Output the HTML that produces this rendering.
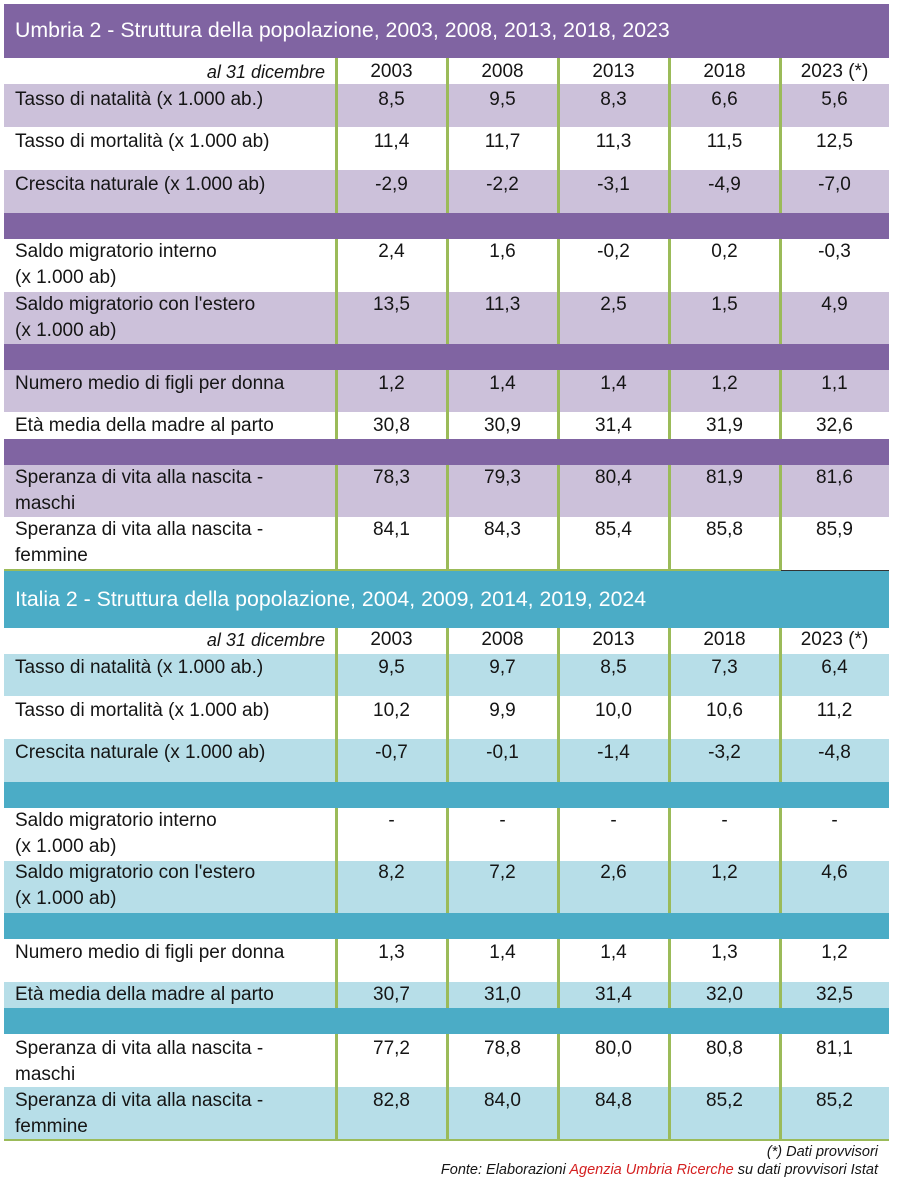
<!DOCTYPE html>
<html>
<head>
<meta charset="utf-8">
<style>
  html,body{margin:0;padding:0;background:#fff;}
  #c{position:relative;width:900px;height:1186px;overflow:hidden;background:#fff;font-family:"Liberation Sans",Arial,sans-serif;}
  .r{position:absolute;left:4px;width:885px;}
  .P{background:#8064A2;}
  .L{background:#CCC1DA;}
  .T{background:#4BACC6;}
  .B{background:#B7DEE8;}
  .W{background:#fff;}
  .g{position:absolute;width:3px;background:#9BBB59;}
  .t{position:absolute;font-size:19px;line-height:26px;white-space:nowrap;color:#151515;}
  .lab{left:15px;}
  .v{text-align:center;}
  .c1{left:336px;width:111px;}
  .c2{left:447px;width:111px;}
  .c3{left:558px;width:111px;}
  .c4{left:669px;width:111px;}
  .c5{left:780px;width:109px;}
  .ttl{position:absolute;left:15px;font-size:21.3px;line-height:30px;color:#fff;white-space:nowrap;}
  .hd{position:absolute;left:0;width:325px;text-align:right;font-style:italic;font-size:18px;line-height:26px;color:#151515;white-space:nowrap;}
  .fn{position:absolute;right:22px;font-style:italic;font-size:14.5px;line-height:18px;color:#151515;white-space:nowrap;text-align:right;}
  .red{color:#D42020;}
</style>
</head>
<body>
<div id="c">

<!-- ================= UMBRIA ================= -->
<div class="r P" style="top:4px;height:54px;"></div>
<div class="ttl" style="top:15px;">Umbria 2 - Struttura della popolazione, 2003, 2008, 2013, 2018, 2023</div>

<div class="r W" style="top:58px;height:26px;"></div>
<div class="r L" style="top:84px;height:43px;"></div>
<div class="r W" style="top:127px;height:43px;"></div>
<div class="r L" style="top:170px;height:43px;"></div>
<div class="r P" style="top:213px;height:26px;"></div>
<div class="r W" style="top:239px;height:53px;"></div>
<div class="r L" style="top:292px;height:52px;"></div>
<div class="r P" style="top:344px;height:26px;"></div>
<div class="r L" style="top:370px;height:42px;"></div>
<div class="r W" style="top:412px;height:27px;"></div>
<div class="r P" style="top:439px;height:26px;"></div>
<div class="r L" style="top:465px;height:52px;"></div>
<div class="r W" style="top:517px;height:53px;"></div>

<!-- green verticals Umbria -->
<div class="g" style="left:335px;top:58px;height:155px;"></div>
<div class="g" style="left:446px;top:58px;height:155px;"></div>
<div class="g" style="left:557px;top:58px;height:155px;"></div>
<div class="g" style="left:668px;top:58px;height:155px;"></div>
<div class="g" style="left:779px;top:58px;height:155px;"></div>

<div class="g" style="left:335px;top:239px;height:105px;"></div>
<div class="g" style="left:446px;top:239px;height:105px;"></div>
<div class="g" style="left:557px;top:239px;height:105px;"></div>
<div class="g" style="left:668px;top:239px;height:105px;"></div>
<div class="g" style="left:779px;top:239px;height:105px;"></div>

<div class="g" style="left:335px;top:370px;height:69px;"></div>
<div class="g" style="left:446px;top:370px;height:69px;"></div>
<div class="g" style="left:557px;top:370px;height:69px;"></div>
<div class="g" style="left:668px;top:370px;height:69px;"></div>
<div class="g" style="left:779px;top:370px;height:69px;"></div>

<div class="g" style="left:335px;top:465px;height:106px;"></div>
<div class="g" style="left:446px;top:465px;height:106px;"></div>
<div class="g" style="left:557px;top:465px;height:106px;"></div>
<div class="g" style="left:668px;top:465px;height:106px;"></div>
<div class="g" style="left:779px;top:465px;height:106px;"></div>

<div style="position:absolute;left:4px;top:569px;width:777px;height:2px;background:#9BBB59;"></div>
<div style="position:absolute;left:781px;top:570px;width:108px;height:1px;background:#333;"></div>

<!-- Umbria text -->
<div class="hd" style="top:59px;">al 31 dicembre</div>
<div class="t v c1" style="top:59px;">2003</div>
<div class="t v c2" style="top:59px;">2008</div>
<div class="t v c3" style="top:59px;">2013</div>
<div class="t v c4" style="top:59px;">2018</div>
<div class="t v c5" style="top:59px;">2023 (*)</div>

<div class="t lab" style="top:87px;">Tasso di natalità (x 1.000 ab.)</div>
<div class="t v c1" style="top:87px;">8,5</div>
<div class="t v c2" style="top:87px;">9,5</div>
<div class="t v c3" style="top:87px;">8,3</div>
<div class="t v c4" style="top:87px;">6,6</div>
<div class="t v c5" style="top:87px;">5,6</div>

<div class="t lab" style="top:129px;">Tasso di mortalità (x 1.000 ab)</div>
<div class="t v c1" style="top:129px;">11,4</div>
<div class="t v c2" style="top:129px;">11,7</div>
<div class="t v c3" style="top:129px;">11,3</div>
<div class="t v c4" style="top:129px;">11,5</div>
<div class="t v c5" style="top:129px;">12,5</div>

<div class="t lab" style="top:172px;">Crescita naturale (x 1.000 ab)</div>
<div class="t v c1" style="top:172px;">-2,9</div>
<div class="t v c2" style="top:172px;">-2,2</div>
<div class="t v c3" style="top:172px;">-3,1</div>
<div class="t v c4" style="top:172px;">-4,9</div>
<div class="t v c5" style="top:172px;">-7,0</div>

<div class="t lab" style="top:239px;">Saldo migratorio interno<br>(x 1.000 ab)</div>
<div class="t v c1" style="top:239px;">2,4</div>
<div class="t v c2" style="top:239px;">1,6</div>
<div class="t v c3" style="top:239px;">-0,2</div>
<div class="t v c4" style="top:239px;">0,2</div>
<div class="t v c5" style="top:239px;">-0,3</div>

<div class="t lab" style="top:292px;">Saldo migratorio con l'estero<br>(x 1.000 ab)</div>
<div class="t v c1" style="top:292px;">13,5</div>
<div class="t v c2" style="top:292px;">11,3</div>
<div class="t v c3" style="top:292px;">2,5</div>
<div class="t v c4" style="top:292px;">1,5</div>
<div class="t v c5" style="top:292px;">4,9</div>

<div class="t lab" style="top:371px;">Numero medio di figli per donna</div>
<div class="t v c1" style="top:371px;">1,2</div>
<div class="t v c2" style="top:371px;">1,4</div>
<div class="t v c3" style="top:371px;">1,4</div>
<div class="t v c4" style="top:371px;">1,2</div>
<div class="t v c5" style="top:371px;">1,1</div>

<div class="t lab" style="top:413px;">Età media della madre al parto</div>
<div class="t v c1" style="top:413px;">30,8</div>
<div class="t v c2" style="top:413px;">30,9</div>
<div class="t v c3" style="top:413px;">31,4</div>
<div class="t v c4" style="top:413px;">31,9</div>
<div class="t v c5" style="top:413px;">32,6</div>

<div class="t lab" style="top:465px;">Speranza di vita alla nascita -<br>maschi</div>
<div class="t v c1" style="top:465px;">78,3</div>
<div class="t v c2" style="top:465px;">79,3</div>
<div class="t v c3" style="top:465px;">80,4</div>
<div class="t v c4" style="top:465px;">81,9</div>
<div class="t v c5" style="top:465px;">81,6</div>

<div class="t lab" style="top:517px;">Speranza di vita alla nascita -<br>femmine</div>
<div class="t v c1" style="top:517px;">84,1</div>
<div class="t v c2" style="top:517px;">84,3</div>
<div class="t v c3" style="top:517px;">85,4</div>
<div class="t v c4" style="top:517px;">85,8</div>
<div class="t v c5" style="top:517px;">85,9</div>

<!-- ================= ITALIA ================= -->
<div class="r T" style="top:571px;height:57px;"></div>
<div class="ttl" style="top:584px;">Italia 2 - Struttura della popolazione, 2004, 2009, 2014, 2019, 2024</div>

<div class="r W" style="top:628px;height:26px;"></div>
<div class="r B" style="top:654px;height:42px;"></div>
<div class="r W" style="top:696px;height:43px;"></div>
<div class="r B" style="top:739px;height:43px;"></div>
<div class="r T" style="top:782px;height:26px;"></div>
<div class="r W" style="top:808px;height:53px;"></div>
<div class="r B" style="top:861px;height:52px;"></div>
<div class="r T" style="top:913px;height:26px;"></div>
<div class="r W" style="top:939px;height:43px;"></div>
<div class="r B" style="top:982px;height:26px;"></div>
<div class="r T" style="top:1008px;height:26px;"></div>
<div class="r W" style="top:1034px;height:53px;"></div>
<div class="r B" style="top:1087px;height:52px;"></div>

<!-- green verticals Italia -->
<div class="g" style="left:335px;top:628px;height:154px;"></div>
<div class="g" style="left:446px;top:628px;height:154px;"></div>
<div class="g" style="left:557px;top:628px;height:154px;"></div>
<div class="g" style="left:668px;top:628px;height:154px;"></div>
<div class="g" style="left:779px;top:628px;height:154px;"></div>

<div class="g" style="left:335px;top:808px;height:105px;"></div>
<div class="g" style="left:446px;top:808px;height:105px;"></div>
<div class="g" style="left:557px;top:808px;height:105px;"></div>
<div class="g" style="left:668px;top:808px;height:105px;"></div>
<div class="g" style="left:779px;top:808px;height:105px;"></div>

<div class="g" style="left:335px;top:939px;height:69px;"></div>
<div class="g" style="left:446px;top:939px;height:69px;"></div>
<div class="g" style="left:557px;top:939px;height:69px;"></div>
<div class="g" style="left:668px;top:939px;height:69px;"></div>
<div class="g" style="left:779px;top:939px;height:69px;"></div>

<div class="g" style="left:335px;top:1034px;height:106px;"></div>
<div class="g" style="left:446px;top:1034px;height:106px;"></div>
<div class="g" style="left:557px;top:1034px;height:106px;"></div>
<div class="g" style="left:668px;top:1034px;height:106px;"></div>
<div class="g" style="left:779px;top:1034px;height:106px;"></div>

<div style="position:absolute;left:4px;top:1139px;width:885px;height:2px;background:#9BBB59;"></div>

<!-- Italia text -->
<div class="hd" style="top:627px;">al 31 dicembre</div>
<div class="t v c1" style="top:627px;">2003</div>
<div class="t v c2" style="top:627px;">2008</div>
<div class="t v c3" style="top:627px;">2013</div>
<div class="t v c4" style="top:627px;">2018</div>
<div class="t v c5" style="top:627px;">2023 (*)</div>

<div class="t lab" style="top:655px;">Tasso di natalità (x 1.000 ab.)</div>
<div class="t v c1" style="top:655px;">9,5</div>
<div class="t v c2" style="top:655px;">9,7</div>
<div class="t v c3" style="top:655px;">8,5</div>
<div class="t v c4" style="top:655px;">7,3</div>
<div class="t v c5" style="top:655px;">6,4</div>

<div class="t lab" style="top:698px;">Tasso di mortalità (x 1.000 ab)</div>
<div class="t v c1" style="top:698px;">10,2</div>
<div class="t v c2" style="top:698px;">9,9</div>
<div class="t v c3" style="top:698px;">10,0</div>
<div class="t v c4" style="top:698px;">10,6</div>
<div class="t v c5" style="top:698px;">11,2</div>

<div class="t lab" style="top:740px;">Crescita naturale (x 1.000 ab)</div>
<div class="t v c1" style="top:740px;">-0,7</div>
<div class="t v c2" style="top:740px;">-0,1</div>
<div class="t v c3" style="top:740px;">-1,4</div>
<div class="t v c4" style="top:740px;">-3,2</div>
<div class="t v c5" style="top:740px;">-4,8</div>

<div class="t lab" style="top:808px;">Saldo migratorio interno<br>(x 1.000 ab)</div>
<div class="t v c1" style="top:808px;">-</div>
<div class="t v c2" style="top:808px;">-</div>
<div class="t v c3" style="top:808px;">-</div>
<div class="t v c4" style="top:808px;">-</div>
<div class="t v c5" style="top:808px;">-</div>

<div class="t lab" style="top:860px;">Saldo migratorio con l'estero<br>(x 1.000 ab)</div>
<div class="t v c1" style="top:860px;">8,2</div>
<div class="t v c2" style="top:860px;">7,2</div>
<div class="t v c3" style="top:860px;">2,6</div>
<div class="t v c4" style="top:860px;">1,2</div>
<div class="t v c5" style="top:860px;">4,6</div>

<div class="t lab" style="top:940px;">Numero medio di figli per donna</div>
<div class="t v c1" style="top:940px;">1,3</div>
<div class="t v c2" style="top:940px;">1,4</div>
<div class="t v c3" style="top:940px;">1,4</div>
<div class="t v c4" style="top:940px;">1,3</div>
<div class="t v c5" style="top:940px;">1,2</div>

<div class="t lab" style="top:982px;">Età media della madre al parto</div>
<div class="t v c1" style="top:982px;">30,7</div>
<div class="t v c2" style="top:982px;">31,0</div>
<div class="t v c3" style="top:982px;">31,4</div>
<div class="t v c4" style="top:982px;">32,0</div>
<div class="t v c5" style="top:982px;">32,5</div>

<div class="t lab" style="top:1036px;">Speranza di vita alla nascita -<br>maschi</div>
<div class="t v c1" style="top:1036px;">77,2</div>
<div class="t v c2" style="top:1036px;">78,8</div>
<div class="t v c3" style="top:1036px;">80,0</div>
<div class="t v c4" style="top:1036px;">80,8</div>
<div class="t v c5" style="top:1036px;">81,1</div>

<div class="t lab" style="top:1088px;">Speranza di vita alla nascita -<br>femmine</div>
<div class="t v c1" style="top:1088px;">82,8</div>
<div class="t v c2" style="top:1088px;">84,0</div>
<div class="t v c3" style="top:1088px;">84,8</div>
<div class="t v c4" style="top:1088px;">85,2</div>
<div class="t v c5" style="top:1088px;">85,2</div>

<!-- footnotes -->
<div class="fn" style="top:1143px;">(*) Dati provvisori</div>
<div class="fn" style="top:1161px;">Fonte: Elaborazioni <span class="red">Agenzia Umbria Ricerche</span> su dati provvisori Istat</div>

</div>
</body>
</html>
